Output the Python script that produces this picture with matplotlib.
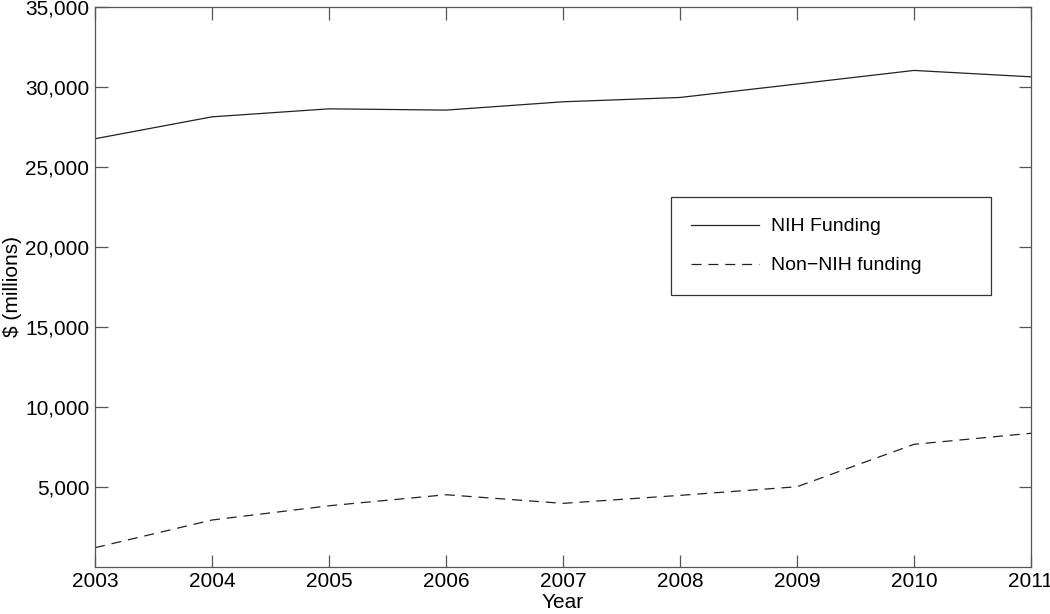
import numpy as np
import matplotlib
matplotlib.use("Agg")
from matplotlib import pyplot as plt

years = [2003, 2004, 2005, 2006, 2007, 2008, 2009, 2010, 2011]
nih = [26750, 28120, 28620, 28540, 29060, 29330, 30170, 31020, 30620]
non_nih = [1190, 2920, 3810, 4500, 3960, 4460, 5000, 7650, 8340]
yticks = [5000, 10000, 15000, 20000, 25000, 30000, 35000]

plt.rcParams['font.family'] = ['Liberation Sans', 'DejaVu Sans']

fig = plt.figure(figsize=(10.5, 6.14), dpi=100)
ax = fig.add_axes([0.0905, 0.077, 0.8914, 0.912])

ax.plot(years, nih, color="#222222", lw=0.9, label="NIH Funding")
line2, = ax.plot(years, non_nih, color="#222222", lw=0.9, label="Non\u2212NIH funding")
line2.set_dashes((8, 5.5))

ax.set_xlim(2003, 2011)
ax.set_ylim(0, 35000)
ax.set_xticks(years)
ax.set_yticks(yticks)
ax.set_yticklabels([f"{v:,}" for v in yticks])
ax.tick_params(direction="in", length=9, width=0.9, color="#555555",
               top=True, right=True, labelsize=15, pad=4)
for s in ax.spines.values():
    s.set_color("#555555")
    s.set_linewidth(0.9)

ax.set_xlabel("Year", fontsize=15, labelpad=1)
ax.set_ylabel("\\$ (millions)", fontsize=15, labelpad=2)

leg = ax.legend(loc="upper left", bbox_to_anchor=(0.615, 0.5596, 0.342, 0.1), mode="expand",
                fontsize=14, frameon=True, fancybox=False, edgecolor="#333333",
                framealpha=1, borderpad=1.05, labelspacing=1.1, handlelength=3.5,
                handletextpad=0.6, borderaxespad=0)
leg.get_frame().set_linewidth(0.9)
leg._legend_box.align = "left"

fig.savefig("out.png", dpi=100)
